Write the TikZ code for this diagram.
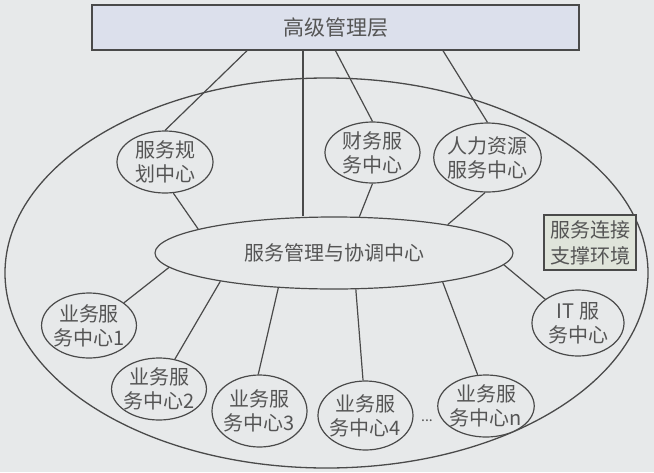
\documentclass[tikz,border=0pt]{standalone}
\usepackage{fontspec}
\newfontfamily\cjk{Noto Sans CJK SC}
\usetikzlibrary{shapes.geometric}
\definecolor{bg}{HTML}{E7E9EA}
\definecolor{lc}{HTML}{4A4A4A}
\definecolor{tc}{HTML}{555555}
\definecolor{topfill}{HTML}{DCE0EC}
\definecolor{envfill}{HTML}{DFE4DA}
\tikzset{
  conn/.style={draw=lc, line width=1.2pt},
  oval/.style={ellipse, draw=lc, line width=1.2pt, fill=bg, inner sep=-2pt, align=center,
    text=tc, font=\cjk\fontsize{20}{24}\selectfont},
  topbox/.style={rectangle, draw=lc, line width=1.4pt, fill=topfill, inner sep=0pt,
    minimum width=487pt, minimum height=45pt, text=tc, font=\cjk\fontsize{21}{25}\selectfont},
  envbox/.style={rectangle, draw=lc, line width=1.6pt, fill=envfill, inner sep=0pt,
    minimum width=92pt, minimum height=55pt, align=center, text=tc, font=\cjk\fontsize{20}{26}\selectfont},
  field/.style={ellipse, draw=lc, line width=1.3pt, inner sep=0pt, minimum width=643pt, minimum height=390pt}
}
\begin{document}
\begin{tikzpicture}[x=1pt,y=-1pt]
\fill[bg] (0,0) rectangle (654,472);
\useasboundingbox (0,0) rectangle (654,472);

\node[field] (field) at (326.5,273) {};
\node[topbox] (top) at (335.5,27.5) {高级管理层};

\node[oval, minimum width=96pt, minimum height=62pt] (plan) at (165,162) {服务规\\划中心};
\node[oval, minimum width=95pt, minimum height=61pt] (fin) at (372.5,152.5) {财务服\\务中心};
\node[oval, minimum width=103pt, minimum height=69pt] (hr) at (487.5,157.5) {人力资源\\服务中心};
\node[oval, minimum width=358pt, minimum height=72pt] (mgmt) at (334,253) {服务管理与协调中心};
\node[envbox] (env) at (590,242.5) {服务连接\\支撑环境};

\node[oval, minimum width=88pt, minimum height=65pt] (b1) at (89,325.5) {业务服\\务中心1};
\node[oval, minimum width=92pt, minimum height=62pt] (b2) at (159,389) {业务服\\务中心2};
\node[oval, minimum width=95pt, minimum height=72pt] (b3) at (259.5,411) {业务服\\务中心3};
\node[oval, minimum width=95pt, minimum height=69pt] (b4) at (365.5,415.5) {业务服\\务中心4};
\node[oval, minimum width=92pt, minimum height=62pt] (bn) at (486,406) {业务服\\务中心n};
\node[oval, minimum width=92pt, minimum height=66pt] (it) at (578,323) {IT 服\\务中心};
\node[text=tc, font=\cjk\fontsize{14}{16}\selectfont, inner sep=0pt] (dots) at (427,421) {...};

\draw[conn] ([xshift=-88.5pt]top.south) -- (plan.north);
\draw[conn] ([xshift=-32.5pt]top.south) -- ([xshift=-32.5pt]top.south |- mgmt.north);
\draw[conn] (top.south) -- (fin.north);
\draw[conn] ([xshift=107.5pt]top.south) -- (hr.north);

\draw[conn] (plan.-75) -- (mgmt.170.6);
\draw[conn] (fin.south) -- (mgmt.55);
\draw[conn] (hr.-94) -- (mgmt.14);

\draw[conn] (mgmt.185.5) -- (b1.33);
\draw[conn] (mgmt.194.3) -- (b2.62);
\draw[conn] (mgmt.212.4) -- (b3.92);
\draw[conn] (mgmt.-59.6) -- (b4.94);
\draw[conn] (mgmt.-15.3) -- (bn.105);
\draw[conn] (mgmt.-4) -- (it.144);
\end{tikzpicture}
\end{document}
